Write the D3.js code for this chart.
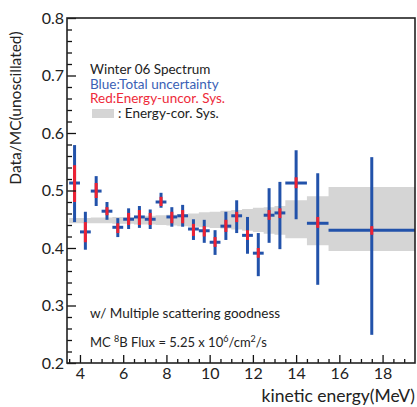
<!DOCTYPE html>
<html>
<head>
<meta charset="utf-8">
<script src="https://cdn.jsdelivr.net/npm/d3@7"></script>
<style>
  body { margin: 0; background: #fff; }
  text { font-family: Lato, "Noto Sans", sans-serif; }
</style>
</head>
<body>
<script>
const w = 417;
const h = 407;

// bins (MeV)
const binLo = [3.5, 4, 4.5, 5, 5.5, 6, 6.5, 7, 7.5, 8, 8.5, 9, 9.5, 10, 10.5, 11, 11.5, 12, 12.5, 13, 13.5, 14.5, 15.5];
const binHi = [4, 4.5, 5, 5.5, 6, 6.5, 7, 7.5, 8, 8.5, 9, 9.5, 10, 10.5, 11, 11.5, 12, 12.5, 13, 13.5, 14.5, 15.5, 19.5];
const energy = [3.75, 4.25, 4.75, 5.25, 5.75, 6.25, 6.75, 7.25, 7.75, 8.25, 8.75, 9.25, 9.75, 10.25, 10.75, 11.25, 11.75, 12.25, 12.75, 13.25, 14, 15, 17.5];
// data/MC ratio
const ratio = [0.513, 0.428, 0.499, 0.464, 0.436, 0.45, 0.454, 0.45, 0.48, 0.454, 0.456, 0.433, 0.43, 0.41, 0.438, 0.456, 0.422, 0.391, 0.457, 0.461, 0.513, 0.443, 0.431];
// total uncertainty (blue), as lower / upper bounds
const totLo = [0.445, 0.397, 0.473, 0.449, 0.419, 0.433, 0.435, 0.433, 0.47, 0.437, 0.437, 0.414, 0.409, 0.388, 0.414, 0.426, 0.39, 0.351, 0.409, 0.398, 0.45, 0.336, 0.249];
const totHi = [0.579, 0.463, 0.525, 0.48, 0.452, 0.469, 0.473, 0.467, 0.496, 0.471, 0.475, 0.45, 0.449, 0.431, 0.463, 0.483, 0.454, 0.426, 0.504, 0.515, 0.57, 0.53, 0.558];
// energy-uncorrelated sys (red)
const uncLo = [0.48, 0.41, 0.487, 0.457, 0.426, 0.44, 0.44, 0.44, 0.473, 0.443, 0.443, 0.421, 0.42, 0.402, 0.428, 0.445, 0.414, 0.383, 0.449, 0.452, 0.504, 0.435, 0.423];
const uncHi = [0.544, 0.445, 0.513, 0.471, 0.443, 0.461, 0.466, 0.461, 0.489, 0.463, 0.466, 0.442, 0.438, 0.419, 0.449, 0.463, 0.431, 0.4, 0.466, 0.469, 0.523, 0.454, 0.438];
// energy-correlated sys band (gray)
const bandLo = [0.443, 0.443, 0.443, 0.443, 0.442, 0.442, 0.441, 0.441, 0.44, 0.439, 0.438, 0.437, 0.436, 0.435, 0.434, 0.432, 0.43, 0.428, 0.425, 0.423, 0.417, 0.405, 0.395];
const bandHi = [0.452, 0.452, 0.453, 0.453, 0.454, 0.454, 0.455, 0.456, 0.457, 0.458, 0.459, 0.46, 0.462, 0.463, 0.465, 0.466, 0.468, 0.47, 0.471, 0.473, 0.483, 0.49, 0.506];

const xTicks = [4, 6, 8, 10, 12, 14, 16, 18];
const yTicks = [0.2, 0.3, 0.4, 0.5, 0.6, 0.7, 0.8];

const padL = 67, padR = 415, padT = 18, padB = 363;
const blue = "#2252aa";
const red = "#ee2233";

const svg = d3.select("body").append("svg").attr("width", w).attr("height", h);

const x = d3.scaleLinear().domain([3.4, 19.5]).range([padL, padR]);
const y = d3.scaleLinear().domain([0.2, 0.8]).range([padB, padT]);

// gray band
const bandPts = [];
binLo.forEach((b, i) => {
  bandPts.push({ e: b, lo: bandLo[i], hi: bandHi[i] });
  bandPts.push({ e: binHi[i], lo: bandLo[i], hi: bandHi[i] });
});
svg.append("path")
  .datum(bandPts)
  .attr("fill", "#d5d5d5")
  .attr("d", d3.area().x(d => x(d.e)).y0(d => y(d.lo)).y1(d => y(d.hi)));

const pts = energy.map((e, i) => ({ e, lo: binLo[i], hi: binHi[i], v: ratio[i], tl: totLo[i], th: totHi[i], ul: uncLo[i], uh: uncHi[i] }));

const g = svg.append("g");
g.selectAll(".hbar").data(pts).enter().append("line")
  .attr("x1", d => x(d.lo)).attr("x2", d => Math.min(x(d.hi), padR))
  .attr("y1", d => y(d.v)).attr("y2", d => y(d.v))
  .attr("stroke", blue).attr("stroke-width", 3);
g.selectAll(".vbar").data(pts).enter().append("line")
  .attr("x1", d => x(d.e)).attr("x2", d => x(d.e))
  .attr("y1", d => y(d.tl)).attr("y2", d => y(d.th))
  .attr("stroke", blue).attr("stroke-width", 3);
g.selectAll(".rbar").data(pts).enter().append("line")
  .attr("x1", d => x(d.e)).attr("x2", d => x(d.e))
  .attr("y1", d => y(d.ul)).attr("y2", d => y(d.uh))
  .attr("stroke", red).attr("stroke-width", 3);

// axes
svg.append("g").attr("transform", "translate(" + padL + ",0)")
  .call(d3.axisLeft(y).tickValues(yTicks).tickSize(-9).tickPadding(3).tickFormat(d3.format(".1f")));
svg.append("g").attr("transform", "translate(" + padL + ",0)")
  .call(d3.axisLeft(y).tickValues(d3.range(0.22, 0.8, 0.02).filter(v => Math.abs(v * 10 - Math.round(v * 10)) > 0.01)).tickSize(-5).tickFormat(""));
svg.append("g").attr("transform", "translate(0," + padB + ")")
  .call(d3.axisBottom(x).tickValues(xTicks).tickSize(-8).tickPadding(5).tickFormat(d3.format("d")));
svg.append("g").attr("transform", "translate(0," + padB + ")")
  .call(d3.axisBottom(x).tickValues(d3.range(3.5, 19.5, 0.5).filter(v => v % 2 !== 0)).tickSize(-4).tickFormat(""));

svg.selectAll(".tick line").attr("stroke", "#111").attr("stroke-width", 1.3);
svg.selectAll(".tick text").attr("font-size", 16).attr("fill", "#222")
  .style("font-family", "Lato, sans-serif");
svg.selectAll(".domain").remove();

svg.append("rect")
  .attr("x", padL).attr("y", padT).attr("width", padR - padL).attr("height", padB - padT)
  .attr("fill", "none").attr("stroke", "#222").attr("stroke-width", 1.6);

// labels
svg.append("text")
  .attr("transform", "translate(21,108) rotate(-90)")
  .attr("text-anchor", "middle").attr("font-size", 15.5).attr("fill", "#222")
  .text("Data/MC(unoscillated)");
svg.append("text")
  .attr("x", 415).attr("y", 402).attr("text-anchor", "end")
  .attr("font-size", 17.5).attr("fill", "#222")
  .text("kinetic energy(MeV)");

// legend
const lx = 90;
const fs = 13.5;
svg.append("text").attr("x", lx).attr("y", 74).attr("font-size", fs).attr("fill", "#222").text("Winter 06 Spectrum");
svg.append("text").attr("x", lx).attr("y", 88.5).attr("font-size", fs).attr("fill", "#3a5fb5").text("Blue:Total uncertainty");
svg.append("text").attr("x", lx).attr("y", 103).attr("font-size", fs).attr("fill", "#ee2a3a").text("Red:Energy-uncor. Sys.");
svg.append("rect").attr("x", 92).attr("y", 109).attr("width", 22).attr("height", 9).attr("fill", "#d5d5d5");
svg.append("text").attr("x", 118).attr("y", 117.5).attr("font-size", fs).attr("fill", "#222").text(": Energy-cor. Sys.");

svg.append("text").attr("x", lx).attr("y", 318).attr("font-size", 13.5).attr("fill", "#222")
  .text("w/ Multiple scattering goodness");
const flux = svg.append("text").attr("x", lx).attr("y", 347).attr("font-size", 13).attr("fill", "#222");
flux.append("tspan").text("MC ");
flux.append("tspan").attr("font-size", 9).attr("dy", -5).text("8");
flux.append("tspan").attr("dy", 5).text("B Flux = 5.25 x 10");
flux.append("tspan").attr("font-size", 9).attr("dy", -5).text("6");
flux.append("tspan").attr("dy", 5).text("/cm");
flux.append("tspan").attr("font-size", 9).attr("dy", -5).text("2");
flux.append("tspan").attr("dy", 5).text("/s");
</script>
</body>
</html>
